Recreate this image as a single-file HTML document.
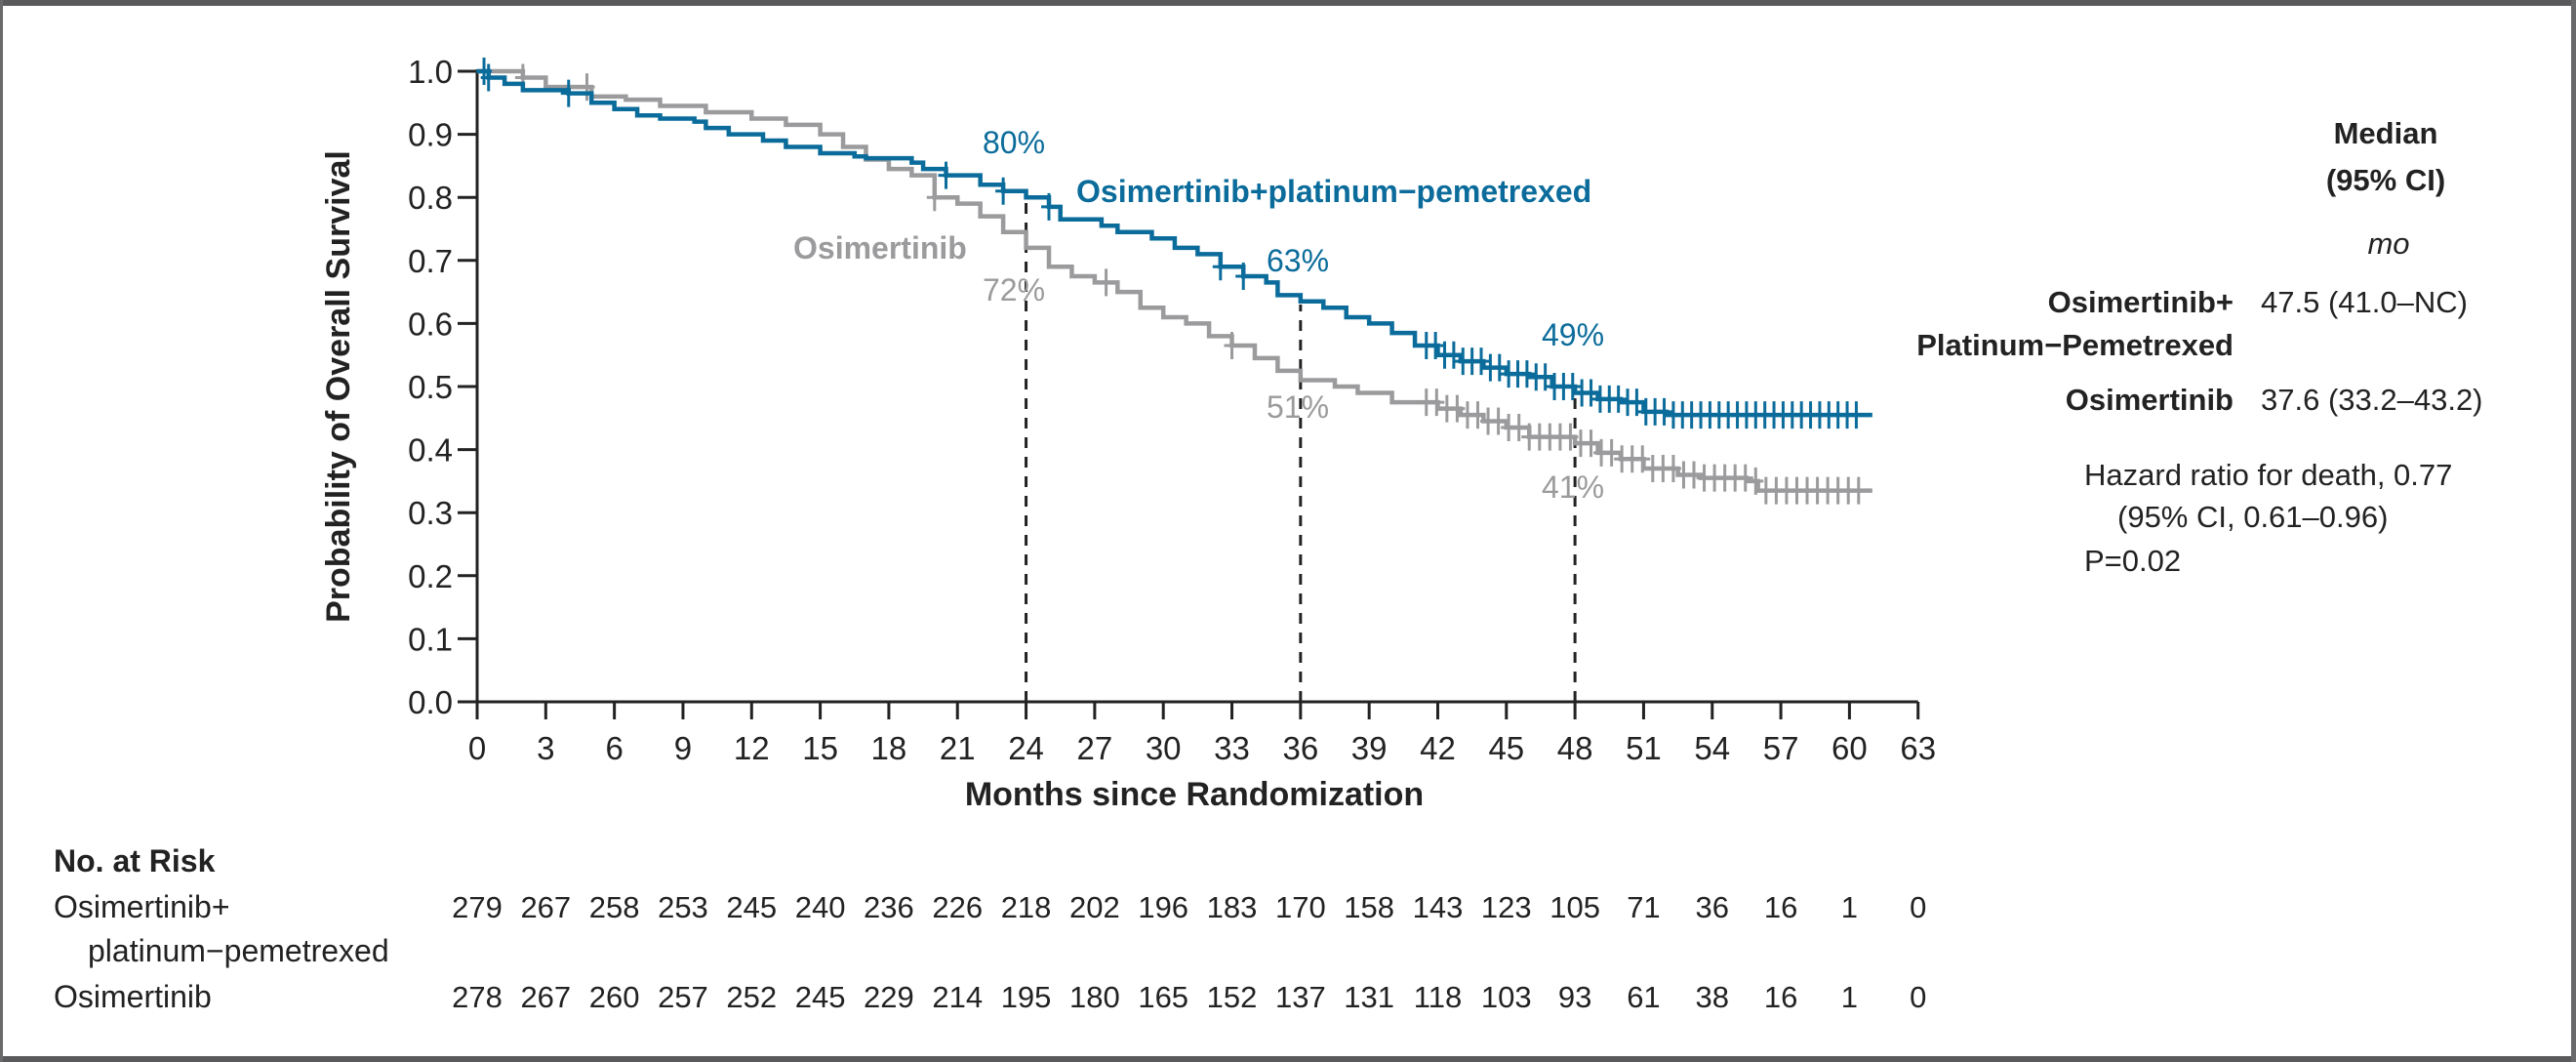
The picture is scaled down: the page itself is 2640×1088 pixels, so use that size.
<!DOCTYPE html>
<html><head><meta charset="utf-8"><style>
html,body{margin:0;padding:0;background:#fff;}
svg{display:block;font-family:"Liberation Sans",sans-serif;}
</style></head><body>
<svg id="s" width="2640" height="1088" viewBox="0 0 2640 1088" xmlns="http://www.w3.org/2000/svg">
<rect x="0" y="0" width="2640" height="1088" fill="#fff"/>
<rect x="0" y="0" width="2640" height="6" fill="#5a5a5c"/>
<rect x="0" y="1082" width="2640" height="6" fill="#5a5a5c"/>
<rect x="0" y="0" width="3" height="1088" fill="#6a6a6c"/>
<rect x="2635" y="0" width="5" height="1088" fill="#6a6a6c"/>
<g id="axes" stroke="#222" stroke-width="3" fill="none"></g>
<g id="dash" stroke="#222" stroke-width="3" stroke-dasharray="11,9" fill="none"></g>
<g id="curves" fill="none"></g>
<g id="txt" fill="#222"></g>
<text x="349" y="396" transform="rotate(-90 349 396)" text-anchor="middle" dominant-baseline="middle" font-size="34" font-weight="bold" fill="#222">Probability of Overall Survival</text>
<text x="1224" y="825" text-anchor="middle" font-size="34" font-weight="bold" fill="#222">Months since Randomization</text>
<text x="1039" y="157" text-anchor="middle" font-size="32" fill="#0b6c9b">80%</text>
<text x="1103" y="207" font-size="32" font-weight="bold" fill="#0b6c9b">Osimertinib+platinum−pemetrexed</text>
<text x="813" y="265" font-size="32" font-weight="bold" fill="#9b9b9d">Osimertinib</text>
<text x="1039" y="308" text-anchor="middle" font-size="32" fill="#9b9b9d">72%</text>
<text x="1330" y="278" text-anchor="middle" font-size="32" fill="#0b6c9b">63%</text>
<text x="1330" y="428" text-anchor="middle" font-size="32" fill="#9b9b9d">51%</text>
<text x="1612" y="354" text-anchor="middle" font-size="32" fill="#0b6c9b">49%</text>
<text x="1612" y="510" text-anchor="middle" font-size="32" fill="#9b9b9d">41%</text>
<g font-size="31" fill="#222">
<text x="2445" y="147" text-anchor="middle" font-weight="bold">Median</text>
<text x="2445" y="195" text-anchor="middle" font-weight="bold">(95% CI)</text>
<text x="2448" y="260" text-anchor="middle" font-style="italic">mo</text>
<text x="2289" y="320" text-anchor="end" font-weight="bold">Osimertinib+</text>
<text x="2317" y="320">47.5 (41.0–NC)</text>
<text x="2289" y="364" text-anchor="end" font-weight="bold">Platinum−Pemetrexed</text>
<text x="2289" y="420" text-anchor="end" font-weight="bold">Osimertinib</text>
<text x="2317" y="420">37.6 (33.2–43.2)</text>
<text x="2136" y="497">Hazard ratio for death, 0.77</text>
<text x="2170" y="540">(95% CI, 0.61–0.96)</text>
<text x="2136" y="585">P=0.02</text>
</g>
<g font-size="32" fill="#222">
<text x="55" y="893" font-weight="bold">No. at Risk</text>
<text x="55" y="940">Osimertinib+</text>
<text x="90" y="985">platinum−pemetrexed</text>
<text x="55" y="1032">Osimertinib</text>
</g>
</svg>
<script>
const NS="http://www.w3.org/2000/svg";
const X=m=>489+23.44*m, Y=p=>719-646*p;
function el(par,tag,attrs,text){const e=document.createElementNS(NS,tag);for(const k in attrs)e.setAttribute(k,attrs[k]);if(text!==undefined)e.textContent=text;document.getElementById(par).appendChild(e);return e;}
el("axes","path",{d:`M${X(0)} ${Y(1.0)-2} V${Y(0)} H${X(63)}`});
for(let i=0;i<=10;i++){const y=Y(i/10);el("axes","path",{d:`M${X(0)-20} ${y} H${X(0)}`});
 el("txt","text",{x:464,y:y+12,"text-anchor":"end","font-size":33},(i/10).toFixed(1));}
for(let m=0;m<=63;m+=3){const x=X(m);el("axes","path",{d:`M${x} ${Y(0)} V${Y(0)+18}`});
 el("txt","text",{x:x,y:778,"text-anchor":"middle","font-size":33},String(m));}
const r1=[279,267,258,253,245,240,236,226,218,202,196,183,170,158,143,123,105,71,36,16,1,0];
const r2=[278,267,260,257,252,245,229,214,195,180,165,152,137,131,118,103,93,61,38,16,1,0];
r1.forEach((v,i)=>el("txt","text",{x:X(i*3),y:940,"text-anchor":"middle","font-size":31},String(v)));
r2.forEach((v,i)=>el("txt","text",{x:X(i*3),y:1032,"text-anchor":"middle","font-size":31},String(v)));
[[24,0.80],[36,0.63],[48,0.49]].forEach(([m,p])=>el("dash","path",{d:`M${X(m)} ${Y(0)} V${Y(p)}`}));
const blue=[[0,1],[0.5,0.99],[1.2,0.98],[2,0.97],[4,0.965],[5,0.95],[6,0.94],[7,0.93],[8,0.925],[9.5,0.92],[10,0.91],[11,0.90],[12.5,0.89],[13.5,0.88],[15,0.87],[16.5,0.865],[17,0.862],[19,0.855],[19.5,0.845],[20.5,0.835],[22,0.82],[23,0.81],[24,0.80],[25,0.785],[25.5,0.765],[27.3,0.755],[28,0.745],[29.5,0.735],[30.5,0.72],[31.5,0.71],[32.5,0.69],[33.5,0.675],[34.5,0.665],[35,0.645],[36,0.635],[37,0.625],[38,0.61],[39,0.60],[40,0.585],[41,0.565],[42,0.55],[43,0.54],[44,0.53],[45,0.52],[46,0.515],[47,0.50],[48,0.49],[49,0.48],[50,0.475],[51,0.46],[52,0.455],[61,0.455]];
const gray=[[0,1],[2,0.99],[3,0.975],[5,0.96],[6.5,0.955],[8,0.945],[10,0.935],[12,0.925],[13.5,0.915],[15,0.90],[16,0.88],[17,0.86],[18,0.845],[19,0.835],[20,0.80],[21,0.79],[22,0.77],[23,0.745],[24,0.72],[25,0.69],[26,0.675],[27,0.665],[28,0.65],[29,0.625],[30,0.61],[31,0.60],[32,0.58],[33,0.565],[34,0.545],[35,0.525],[36,0.51],[37.5,0.50],[38.5,0.49],[40,0.475],[42,0.465],[43,0.455],[44,0.445],[45,0.435],[46,0.42],[48,0.41],[49,0.395],[50,0.385],[51,0.37],[52.5,0.36],[53.5,0.355],[55.5,0.35],[56,0.335],[61,0.335]];
function draw(data,col,cens){let d=`M${X(data[0][0])} ${Y(data[0][1])}`;
 for(let i=1;i<data.length;i++){d+=` H${X(data[i][0])} V${Y(data[i][1])}`;}
 el("curves","path",{d:d,stroke:col,"stroke-width":4.5});
 const val=m=>{let p=1;for(const [a,b] of data){if(a<=m)p=b;}return p;};
 let cd="";cens.forEach(m=>{const x=X(m),y=Y(val(m));cd+=`M${x} ${y-14} V${y+14} M${x-8} ${y} H${x+8} `;});
 el("curves","path",{d:cd,stroke:col,"stroke-width":3});}
const bc=[0.3,0.5,4,20.5,23,25,32.5,33.5];for(let m=41.5;m<=60.5;m+=0.4)bc.push(m);
const gc=[2,4.8,20,27.5,33];for(let m=41.5;m<=60.5;m+=0.45)gc.push(m);
draw(gray,"#9b9b9d",gc);
draw(blue,"#0b6c9b",bc);
</script>
</body></html>
